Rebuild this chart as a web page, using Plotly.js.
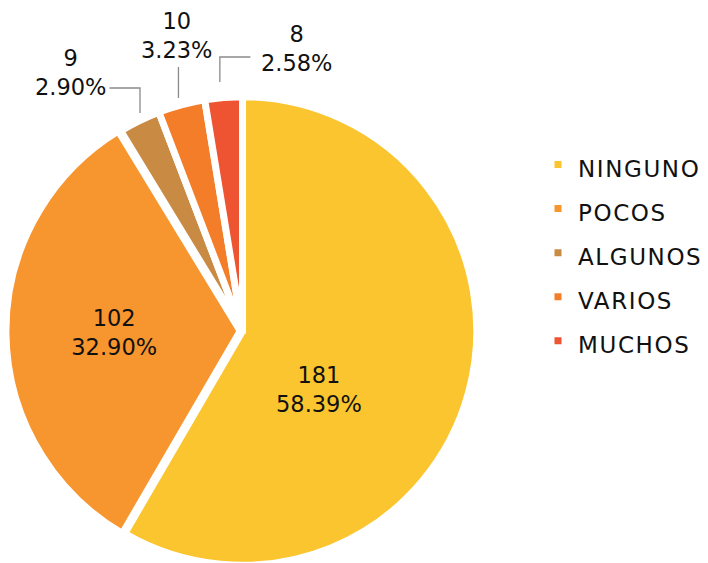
<!DOCTYPE html>
<html><head><meta charset="utf-8">
<script src="https://cdn.plot.ly/plotly-3.0.1.min.js"></script>
<style>html,body{margin:0;padding:0;background:#fff;overflow:hidden}#wrap{width:708px;height:563px;overflow:hidden}</style>
</head><body>
<div id="wrap"><div id="chart" style="width:708px;height:572px"></div></div>
<script>
const categories = ["NINGUNO", "POCOS", "ALGUNOS", "VARIOS", "MUCHOS"];
const counts = [181, 102, 9, 10, 8];
const colors = ["#FBC52F", "#F7952F", "#C98B43", "#F47D29", "#EF5432"];
// Plotly draws the POCOS label itself; the others are placed as callouts
const positions = ["none", "inside", "none", "none", "none"];
const pulls = [0, 0.01, 0, 0, 0];

// the reference pie runs slightly past the bottom edge, so the plot is a bit taller than the window
const W = 708, H = 572;
const px = x => x / W, py = y => 1 - y / H;
const total = counts.reduce((a, b) => a + b, 0);
const pctText = i => (100 * counts[i] / total).toFixed(2) + "%";
const labelFont = {family: "DejaVu Sans", size: 22.5, color: "#111111"};

// callout label anchors (page pixels) and leader-line paths, in category order
const callouts = [
  {i: 0, x: 324, y: 389, path: null},
  {i: 2, x: 72, y: 73, path: [[111, 88], [142, 88], [142, 113]]},
  {i: 3, x: 179, y: 36, path: [[181, 67], [181, 98]]},
  {i: 4, x: 301, y: 48, path: [[254, 57], [223, 57], [223, 82]]}
];

const annotations = callouts.map(c => ({
  xref: "paper", yref: "paper", x: px(c.x), y: py(c.y),
  xanchor: "center", yanchor: "middle", showarrow: false,
  text: counts[c.i] + "<br>" + pctText(c.i), font: labelFont
}));
const shapes = callouts.filter(c => c.path).map(c => ({
  type: "path", xref: "paper", yref: "paper",
  path: c.path.map((p, k) => (k ? "L" : "M") + px(p[0]) + "," + py(p[1])).join(" "),
  line: {color: "#8a8a8a", width: 1.3}
}));

const trace = {
  type: "pie",
  labels: categories.map(c => '<span style="font-size:23px;letter-spacing:1.6px">' + c + '</span>'),
  values: counts,
  sort: false,
  direction: "clockwise",
  rotation: 0,
  pull: pulls,
  marker: {colors: colors, line: {color: "#ffffff", width: 7}},
  textposition: positions,
  texttemplate: "%{value}<br>%{percent:.2%}",
  insidetextorientation: "horizontal",
  textfont: labelFont,
  domain: {x: [px(6), px(486)], y: [py(571), py(91)]},
  hoverinfo: "none"
};

const layout = {
  width: W, height: H,
  margin: {l: 0, r: 0, t: 0, b: 0},
  paper_bgcolor: "#ffffff",
  showlegend: true,
  legend: {
    x: px(546), y: py(253), xanchor: "left", yanchor: "middle",
    font: {family: "DejaVu Sans", size: 31.6, color: "#111111"},
    itemwidth: 30
  },
  annotations: annotations,
  shapes: shapes
};
Plotly.newPlot("chart", [trace], layout, {displayModeBar: false, staticPlot: true});
</script>
</body></html>
